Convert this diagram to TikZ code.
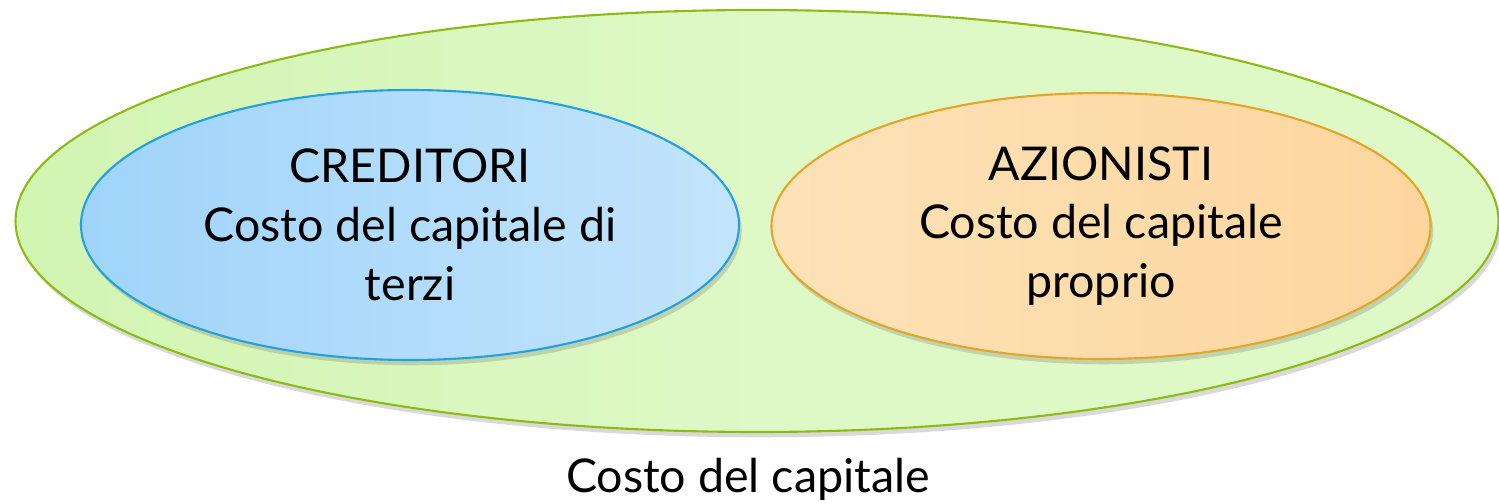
\documentclass[tikz,border=0pt]{standalone}
\usepackage{fontspec}
\setmainfont{Lato}
\usepackage{tikz}
\usetikzlibrary{shapes.geometric,shadows}
\definecolor{greenline}{RGB}{140,188,20}
\definecolor{greenL}{RGB}{210,245,178}
\definecolor{greenR}{RGB}{222,248,198}
\definecolor{blueline}{RGB}{35,160,225}
\definecolor{blueL}{RGB}{160,212,250}
\definecolor{blueR}{RGB}{195,228,252}
\definecolor{orangeline}{RGB}{228,165,40}
\definecolor{orangeL}{RGB}{253,226,184}
\definecolor{orangeR}{RGB}{253,214,158}
\tikzset{
  blob/.style={ellipse, inner sep=0pt, line width=1.2pt, align=center,
    font=\fontsize{26.5}{33.5}\selectfont,
    drop shadow={shadow xshift=1.5pt, shadow yshift=-3pt, opacity=0.25, fill=black!60}},
  outerblob/.style={blob, draw=greenline, left color=greenL, right color=greenR, middle color=greenR},
  dbtblob/.style={blob, draw=blueline, left color=blueL, right color=blueR},
  eqblob/.style={blob, draw=orangeline, left color=orangeL, right color=orangeR},
  capt/.style={font=\fontsize{26.5}{33.5}\selectfont},
}

\begin{document}
\begin{tikzpicture}
  \useasboundingbox (0,0) rectangle (29.98,10.04);

  % --- Outer ellipse ---
  \node[outerblob, minimum width=29.66cm, minimum height=8.44cm] (tot) at (15.14,5.62) {};

  % --- Creditori / Azionisti ---
  \node[dbtblob, minimum width=13.16cm, minimum height=5.40cm] (cred) at (8.20,5.54)
    {CREDITORI\\Costo del capitale di\\terzi};
  \node[eqblob, minimum width=13.18cm, minimum height=5.32cm] (azio) at (22.02,5.52)
    {AZIONISTI\\Costo del capitale\\proprio};

  % --- Caption ---
  \node[capt] (lbl) at (14.96,0.46) {Costo del capitale};
\end{tikzpicture}
\end{document}
